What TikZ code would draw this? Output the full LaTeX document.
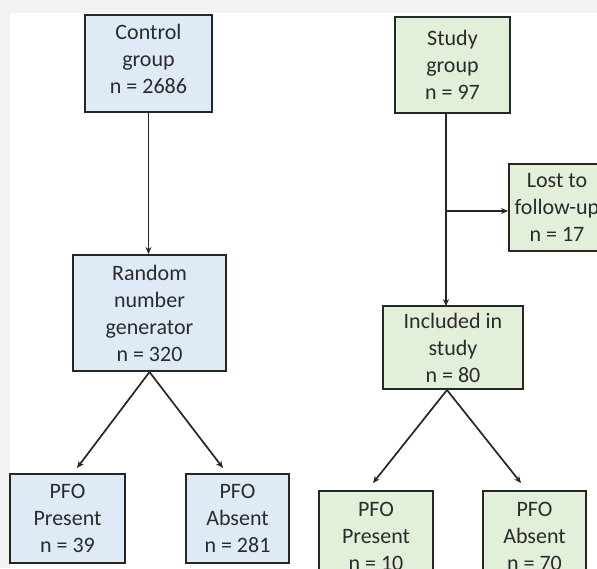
\documentclass[tikz,border=0pt]{standalone}
\usepackage{fontspec}
\setmainfont{Carlito}
\usetikzlibrary{arrows.meta}
\definecolor{bluefill}{HTML}{DEEAF6}
\definecolor{greenfill}{HTML}{E2EFD9}
\definecolor{edge}{HTML}{262626}
\definecolor{txt}{HTML}{2B2B2B}
\definecolor{bggray}{HTML}{F2F2F2}
\tikzset{
  box/.style={draw=edge, line width=2pt, rectangle, inner sep=0pt, align=center,
    text=txt, font=\fontsize{22}{27}\selectfont},
  bluebox/.style={box, fill=bluefill},
  greenbox/.style={box, fill=greenfill},
  conn/.style={draw=black!85, line width=1.7pt, -{Stealth[length=7pt,width=6pt]}}
}
\begin{document}
\begin{tikzpicture}[x=1pt,y=-1pt]
\useasboundingbox (0,0) rectangle (597,568);
\clip (0,0) rectangle (597,568);
\fill[bggray] (0,0) rectangle (597,568);
\fill[white] (10,13) rectangle (597,568);

% control arm
\node[bluebox, minimum width=127pt, minimum height=97pt, text depth=10pt] (ctrl) at (148.5,63.5) {Control\\group\\n = 2686};
\node[bluebox, minimum width=153pt, minimum height=116pt] (rng) at (149.5,313) {Random\\number\\generator\\n = 320};
\node[bluebox, minimum width=115pt, minimum height=89pt] (pp1) at (67.5,518.5) {PFO\\Present\\n = 39};
\node[bluebox, minimum width=103pt, minimum height=89pt] (pa1) at (237.5,518.5) {PFO\\Absent\\n = 281};

% study arm
\node[greenbox, minimum width=115pt, minimum height=96pt] (study) at (452.5,65) {Study\\group\\n = 97};
\node[greenbox, minimum width=96pt, minimum height=87pt] (lost) at (557,207.5) {Lost to\\follow-up\\n = 17};
\node[greenbox, minimum width=140pt, minimum height=83pt] (inc) at (453,347.5) {Included in\\study\\n = 80};
\node[greenbox, minimum width=114pt, minimum height=90pt] (pp2) at (376,536) {PFO\\Present\\n = 10};
\node[greenbox, minimum width=103pt, minimum height=90pt] (pa2) at (534.5,536) {PFO\\Absent\\n = 70};

% connectors
\draw[conn] (ctrl.south) -- (ctrl.south |- rng.north);
\coordinate (t1) at (77,468);
\coordinate (t2) at (223,468);
\draw[conn] (rng.south) -- (t1);
\draw[conn] (rng.south) -- (t2);

\coordinate (sb) at (446,113);
\coordinate (br) at (446,211);
\coordinate (ib) at (446,306);
\draw[conn] (sb) -- (ib);
\draw[conn] (br) -- (lost.west |- br);
\coordinate (t3) at (373,483);
\coordinate (t4) at (521,483);
\draw[conn] ([xshift=-6pt]inc.south) -- (t3);
\draw[conn] ([xshift=-6pt]inc.south) -- (t4);
\end{tikzpicture}
\end{document}
